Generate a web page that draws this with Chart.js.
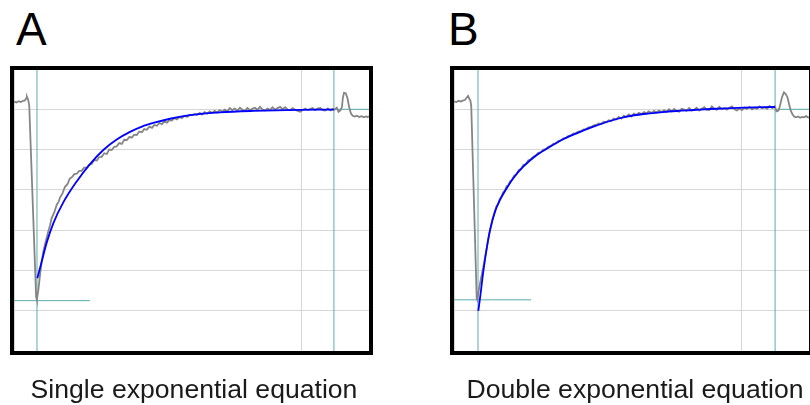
<!DOCTYPE html>
<html>
<head>
<meta charset="utf-8">
<script src="https://cdn.jsdelivr.net/npm/chart.js@4"></script>
<style>
  html, body { margin: 0; padding: 0; background: #fff; }
  body { width: 810px; height: 405px; position: relative; overflow: hidden; font-family: "Liberation Sans", Arial, sans-serif; }
  .letter { position: absolute; font-size: 46px; line-height: 46px; color: #000; }
  .caption { position: absolute; font-size: 26.6px; line-height: 28px; color: #1a1a1a; white-space: nowrap; transform: translateX(-50%); }
  canvas { position: absolute; }
  .frame { position: absolute; width: 363px; height: 289px; border: 4px solid #000; box-sizing: border-box; }
</style>
</head>
<body>
<div class="letter" style="left:16px; top:6px;">A</div>
<div class="letter" style="left:448px; top:6px;">B</div>

<canvas id="chartA" width="355" height="282" style="left:14px; top:69px;"></canvas>
<div class="frame" style="left:10px; top:66px;"></div>
<canvas id="chartB" width="355" height="282" style="left:454px; top:69px;"></canvas>
<div class="frame" style="left:450px; top:66px;"></div>

<div class="caption" style="left:194px; top:375px;">Single exponential equation</div>
<div class="caption" style="left:635px; top:375px;">Double exponential equation</div>

<script>
// time axis (ms) and current axis (pA)
const xMin = 0, xMax = 123.5, xGridStep = 100;
const yMin = -600, yMax = 100, yGridStep = 100;

// cursor positions [start, end] and baseline / peak levels
const cursorsA = [8.0, 111.3];
const cursorsB = [8.35, 111.7];
const peakLevelA = -475, peakLevelB = -473;
const peakLineEndA = 26.4, peakLineEndB = 26.8;
const steadyLevel = 0;

// recorded trace, panel A  [time, current]
const traceA = [
  [0,19],[0.8,17],[1.6,20],[2.4,18],[3.2,21],[3.8,22],[4.2,27],[4.5,31],[4.9,24],[5.3,10],
  [7.7,-466],[7.95,-473],
  [8.5,-447],[9.05,-411],[9.6,-380],[10.2,-353],[11.0,-329],[11.9,-304],[12.5,-289],[13.1,-270],
  [14.0,-256],[14.9,-236],[15.5,-230],[16.0,-219],[16.9,-208],[17.7,-193],[18.6,-186],[19.4,-172],
  [20.1,-169],[21.0,-161],[21.8,-160],[22.7,-153],[23.5,-153],[24.4,-145],[25.3,-145],[26.1,-138],
  [27.0,-136],[27.9,-126],[28.8,-127],[29.6,-119],[30.5,-118],[31.4,-109],[32.3,-111],[33.1,-100],
  [34.0,-101],[34.9,-93],[35.7,-92],[36.6,-84],[37.5,-86],[38.4,-75],[39.2,-77],[40.1,-69],
  [41.0,-70],[41.8,-63],[42.7,-64],[43.6,-55],[44.5,-57],[45.3,-49],[46.2,-51],[47.1,-43],
  [48.0,-46],[48.8,-39],[49.7,-41],[50.6,-34],[51.5,-37],[52.3,-30],[53.2,-33],[54.1,-27],
  [54.9,-28],[55.8,-22],[56.7,-25],[57.6,-19],[58.4,-22],[59.3,-16],[60.2,-19],[61.1,-14],
  [61.9,-15],[62.8,-12],[63.7,-14],[64.6,-9],[65.4,-13],[66.3,-7],[67.2,-11],[68.1,-5],
  [68.9,-9],[69.8,-4],[70.7,-8],[71.6,-2],[72.4,-6],[73.3,-1],[74.2,-5],[75.1,3],
  [75.9,-2],[76.8,2],[77.7,-3],[78.6,4],[79.4,-1],[80.3,-4],[81.2,3],[82.1,-2],
  [82.9,1],[83.8,4],[84.7,-1],[85.6,6],[86.4,0],[87.3,-3],[88.2,2],[89.1,-2],
  [89.9,5],[90.8,-1],[91.7,3],[92.6,6],[93.4,0],[94.3,5],[95.2,-1],[96.1,-2],
  [96.9,3],[97.8,-1],[98.7,-4],[99.6,-6],[100.4,-2],[101.3,2],[102.2,-2],[103.1,1],
  [103.9,3],[104.8,-2],[105.7,2],[106.6,3],[107.4,-2],[108.3,-3],[109.2,2],[110.1,-3],
  [110.9,1],[111.5,-1],[112.3,4],[112.9,-6],[113.6,-2],[114.1,6],[114.4,28],[114.8,41],
  [115.4,40],[116.0,28],[116.6,5],[117.2,-10],[117.8,-16],[118.5,-18],[119.3,-16],[120.1,-19],
  [120.9,-17],[121.7,-20],[122.4,-18],[123.1,-19],[123.5,-17]
];

// single exponential fit, panel A
const fitA = [
  [8.11,-419.5],[9.64,-378],[11.38,-331],[13.67,-283],[17.15,-231],[21.81,-179],[26.44,-136],
  [31.07,-101],[35.73,-75],[40.36,-56],[44.5,-43],[48.46,-34],[54.26,-23.5],[60.07,-16],
  [65.85,-11],[71.67,-7.5],[83.25,-4],[94.87,-2],[111.3,-0.7]
];

// recorded trace, panel B
const traceB = [
  [0,20],[0.8,18],[1.6,21],[2.4,19],[3.2,22],[3.8,23],[4.3,28],[4.9,33],[5.3,26],[5.7,22],[6.0,8],
  [7.9,-469],[8.1,-473],
  [8.7,-446],[9.3,-423],[9.9,-402],[10.5,-380],[11.1,-356],[11.7,-333],[12.3,-309],[12.9,-290],
  [13.5,-270],[14.1,-256],[14.7,-242],[15.3,-236],[15.9,-223],[16.5,-217],[17.1,-206],[17.7,-202],
  [18.3,-191],[18.9,-189],[19.5,-179],[20.1,-176],[20.9,-165],[21.7,-161],[22.5,-151],[23.3,-148],
  [24.1,-138],[25.0,-136],[25.8,-127],[26.7,-124],[27.6,-118],[28.4,-115],[29.3,-108],[30.2,-107],
  [31.1,-100],[31.9,-99],[32.8,-93],[33.7,-91],[34.6,-85],[35.4,-85],[36.3,-79],[37.2,-77],
  [38.1,-72],[38.9,-71],[39.8,-66],[40.7,-65],[41.6,-60],[42.4,-59],[43.3,-55],[44.2,-54],
  [45.1,-50],[45.9,-49],[46.8,-45],[47.7,-44],[48.6,-40],[49.4,-39],[50.3,-35],[51.2,-36],
  [52.1,-31],[52.9,-32],[53.8,-27],[54.7,-29],[55.6,-23],[56.4,-25],[57.3,-19],[58.2,-23],
  [59.1,-16],[59.9,-19],[60.8,-13],[61.7,-18],[62.6,-11],[63.4,-14],[64.3,-9],[65.2,-12],
  [66.1,-7],[66.9,-10],[67.8,-5],[68.7,-9],[69.6,-4],[70.4,-8],[71.3,-3],[72.2,-7],
  [73.1,-2],[73.9,-7],[74.8,0],[75.7,-5],[76.6,1],[77.4,-4],[78.3,-6],[79.2,1],
  [80.1,-1],[80.9,-4],[81.8,3],[82.7,-3],[83.6,-1],[84.4,4],[85.3,-3],[86.2,1],
  [87.1,5],[87.9,-1],[88.8,-2],[89.7,7],[90.6,1],[91.4,-1],[92.3,6],[93.2,0],
  [94.1,3],[94.9,-1],[95.8,4],[96.7,7],[97.6,0],[98.4,-3],[99.3,2],[100.2,-2],
  [101.1,4],[101.9,1],[102.8,6],[103.7,0],[104.6,4],[105.4,1],[106.3,7],[107.2,2],
  [108.1,5],[108.9,1],[109.8,8],[110.7,3],[111.6,7],[112.2,-5],[112.9,-3],[113.3,6],
  [114.1,30],[114.8,42],[115.4,38],[116.0,30],[116.6,12],[117.1,-2],[117.7,-12],[118.3,-18],
  [119.0,-20],[119.7,-18],[120.4,-21],[121.1,-19],[121.8,-20],[122.5,-17],[123.2,-20],[123.5,-21]
];

// double exponential fit, panel B
const fitB = [
  [8.45,-500.6],[9.05,-469],[10.19,-403],[11.38,-345],[12.52,-300],[14.27,-254],[16.0,-225],
  [18.34,-196],[20.63,-171],[24.1,-142.5],[28.8,-113.5],[33.4,-93],[38.0,-74.5],[42.7,-59.6],
  [48.5,-43.2],[54.3,-29.1],[60.1,-18.4],[65.9,-11.7],[71.7,-7.5],[77.5,-4.2],[83.3,-1.8],
  [89.1,0.7],[94.9,2.5],[100.7,3.9],[111.7,5.7]
];

const traceColor = '#858585';
const fitColor = '#0000ff';
const cursorColor = '#5aaeae';
const gridColor = '#d6d6d6';

function toPoints(pairs) {
    return pairs.map(p => ({x: p[0], y: p[1]}));
}

function drawPanel(canvasId, trace, fit, cursors, peakLevel, peakLineEnd) {
    const ctx = document.getElementById(canvasId).getContext('2d');
    const lineBase = {pointRadius: 0, fill: false, tension: 0};
    new Chart(ctx, {
        type: 'line',
        data: {
            datasets: [
                Object.assign({}, lineBase, {
                    data: toPoints(fit), borderColor: fitColor, borderWidth: 1.8,
                    cubicInterpolationMode: 'monotone', order: 1}),
                Object.assign({}, lineBase, {
                    data: toPoints(trace), borderColor: traceColor, borderWidth: 1.8, order: 2}),
                Object.assign({}, lineBase, {
                    data: [{x: cursors[0], y: yMin}, {x: cursors[0], y: yMax}],
                    borderColor: cursorColor, borderWidth: 1, order: 3}),
                Object.assign({}, lineBase, {
                    data: [{x: cursors[1], y: yMin}, {x: cursors[1], y: yMax}],
                    borderColor: cursorColor, borderWidth: 1, order: 3}),
                Object.assign({}, lineBase, {
                    data: [{x: xMin, y: peakLevel}, {x: peakLineEnd, y: peakLevel}],
                    borderColor: cursorColor, borderWidth: 1, order: 3}),
                Object.assign({}, lineBase, {
                    data: [{x: cursors[1], y: steadyLevel}, {x: xMax, y: steadyLevel}],
                    borderColor: cursorColor, borderWidth: 1, order: 3})
            ]
        },
        options: {
            responsive: false,
            animation: false,
            events: [],
            layout: {padding: 0, autoPadding: false},
            plugins: {legend: {display: false}, tooltip: {enabled: false}, title: {display: false}},
            scales: {
                x: {
                    type: 'linear', min: xMin, max: xMax,
                    ticks: {display: false, stepSize: xGridStep},
                    grid: {color: gridColor, lineWidth: 1, drawTicks: false},
                    border: {display: false}
                },
                y: {
                    type: 'linear', min: yMin, max: yMax,
                    ticks: {display: false, stepSize: yGridStep},
                    grid: {color: gridColor, lineWidth: 1, drawTicks: false},
                    border: {display: false}
                }
            }
        }
    });
}

drawPanel('chartA', traceA, fitA, cursorsA, peakLevelA, peakLineEndA);
drawPanel('chartB', traceB, fitB, cursorsB, peakLevelB, peakLineEndB);
</script>
</body>
</html>
